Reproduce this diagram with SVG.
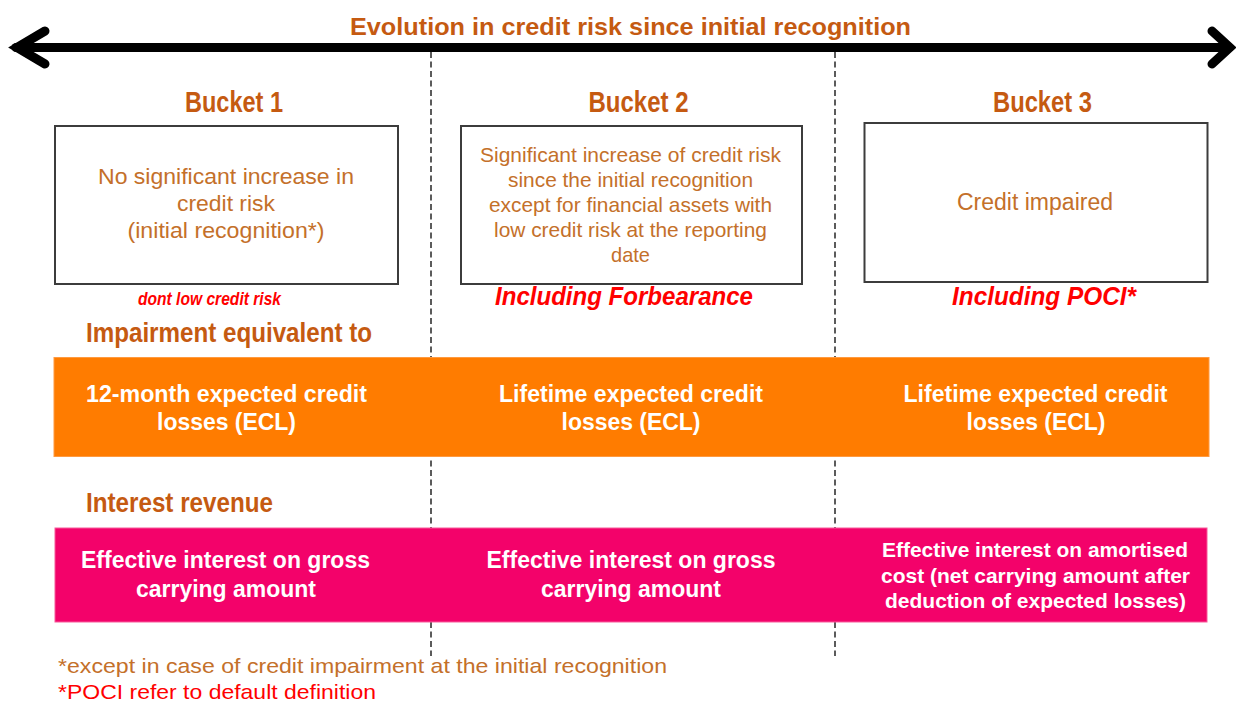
<svg xmlns="http://www.w3.org/2000/svg" width="1236" height="701" viewBox="0 0 1236 701">
<style>
text{font-family:"Liberation Sans",Arial,sans-serif;}
.hd{font-weight:bold;fill:#C55A11;}
.bt{fill:#C4702A;}
.red{fill:#FF0000;font-weight:bold;font-style:italic;}
.wb{fill:#FFFFFF;font-weight:bold;}
.box{fill:#FFFFFF;stroke:#3C3C3C;stroke-width:2;}
.dash{stroke:#333333;stroke-width:1.6;stroke-dasharray:6 3.5;fill:none;}
.arr{stroke:#000000;fill:none;stroke-linecap:round;}
</style>
<rect width="1236" height="701" fill="#FFFFFF"/>
<g id="connectors">
  <line class="dash" x1="431" y1="52" x2="431" y2="656"/>
  <line class="dash" x1="835" y1="52" x2="835" y2="656"/>
  <line class="arr" x1="16" y1="47.5" x2="1228" y2="47.5" stroke-width="9" stroke-linecap="butt"/>
  <polyline class="arr" points="45,31 17,47.5 45,64" stroke-width="9" stroke-linejoin="miter"/>
  <polyline class="arr" points="1212,31 1230,47.5 1212,64" stroke-width="9" stroke-linejoin="miter"/>
</g>
<g id="title">
  <text class="hd" x="630.5" y="35" font-size="24" text-anchor="middle" textLength="561" lengthAdjust="spacingAndGlyphs">Evolution in credit risk since initial recognition</text>
</g>
<g id="bucket1">
  <text class="hd" x="234" y="112" font-size="29" text-anchor="middle" textLength="98" lengthAdjust="spacingAndGlyphs">Bucket 1</text>
  <rect class="box" x="55" y="126" width="343" height="158"/>
  <text class="bt" x="226" y="184" font-size="22.5" text-anchor="middle" textLength="256" lengthAdjust="spacingAndGlyphs">No significant increase in</text>
  <text class="bt" x="226" y="211" font-size="22.5" text-anchor="middle" textLength="98" lengthAdjust="spacingAndGlyphs">credit risk</text>
  <text class="bt" x="226" y="238" font-size="22.5" text-anchor="middle" textLength="197" lengthAdjust="spacingAndGlyphs">(initial recognition*)</text>
  <text class="red" x="209.5" y="305" font-size="18.5" text-anchor="middle" textLength="143" lengthAdjust="spacingAndGlyphs">dont low credit risk</text>
</g>
<g id="bucket2">
  <text class="hd" x="638.5" y="112" font-size="29" text-anchor="middle" textLength="100" lengthAdjust="spacingAndGlyphs">Bucket 2</text>
  <rect class="box" x="461" y="126" width="341" height="158"/>
  <text class="bt" x="630.5" y="162" font-size="21" text-anchor="middle" textLength="301" lengthAdjust="spacingAndGlyphs">Significant increase of credit risk</text>
  <text class="bt" x="630.5" y="187" font-size="21" text-anchor="middle" textLength="245" lengthAdjust="spacingAndGlyphs">since the initial recognition</text>
  <text class="bt" x="630.5" y="212" font-size="21" text-anchor="middle" textLength="283" lengthAdjust="spacingAndGlyphs">except for financial assets with</text>
  <text class="bt" x="630.5" y="237" font-size="21" text-anchor="middle" textLength="273" lengthAdjust="spacingAndGlyphs">low credit risk at the reporting</text>
  <text class="bt" x="630.5" y="262" font-size="21" text-anchor="middle" textLength="39" lengthAdjust="spacingAndGlyphs">date</text>
  <text class="red" x="624" y="305" font-size="26" text-anchor="middle" textLength="258" lengthAdjust="spacingAndGlyphs">Including Forbearance</text>
</g>
<g id="bucket3">
  <text class="hd" x="1042.5" y="112" font-size="29" text-anchor="middle" textLength="99" lengthAdjust="spacingAndGlyphs">Bucket 3</text>
  <rect class="box" x="864.5" y="123" width="343" height="159"/>
  <text class="bt" x="1035" y="210" font-size="23" text-anchor="middle" textLength="156" lengthAdjust="spacingAndGlyphs">Credit impaired</text>
  <text class="red" x="1044" y="305" font-size="26" text-anchor="middle" textLength="184" lengthAdjust="spacingAndGlyphs">Including POCI*</text>
</g>
<g id="impairment">
  <text class="hd" x="86" y="342" font-size="28" textLength="286" lengthAdjust="spacingAndGlyphs">Impairment equivalent to</text>
  <rect x="54" y="357.5" width="1155" height="99" fill="#FF7C00" stroke="#FF9A40" stroke-width="1"/>
  <text class="wb" x="226.5" y="402" font-size="23" text-anchor="middle" textLength="281" lengthAdjust="spacingAndGlyphs">12-month expected credit</text>
  <text class="wb" x="226.5" y="430" font-size="23" text-anchor="middle" textLength="139" lengthAdjust="spacingAndGlyphs">losses (ECL)</text>
  <text class="wb" x="631" y="402" font-size="23" text-anchor="middle" textLength="264" lengthAdjust="spacingAndGlyphs">Lifetime expected credit</text>
  <text class="wb" x="631" y="430" font-size="23" text-anchor="middle" textLength="139" lengthAdjust="spacingAndGlyphs">losses (ECL)</text>
  <text class="wb" x="1035.5" y="402" font-size="23" text-anchor="middle" textLength="264" lengthAdjust="spacingAndGlyphs">Lifetime expected credit</text>
  <text class="wb" x="1036" y="430" font-size="23" text-anchor="middle" textLength="139" lengthAdjust="spacingAndGlyphs">losses (ECL)</text>
</g>
<g id="interest">
  <text class="hd" x="86" y="512" font-size="28" textLength="187" lengthAdjust="spacingAndGlyphs">Interest revenue</text>
  <rect x="55" y="528" width="1152" height="94" fill="#F3026A" stroke="#F75A9A" stroke-width="1"/>
  <text class="wb" x="225.5" y="568" font-size="23" text-anchor="middle" textLength="289" lengthAdjust="spacingAndGlyphs">Effective interest on gross</text>
  <text class="wb" x="226" y="597" font-size="23" text-anchor="middle" textLength="180" lengthAdjust="spacingAndGlyphs">carrying amount</text>
  <text class="wb" x="631" y="568" font-size="23" text-anchor="middle" textLength="289" lengthAdjust="spacingAndGlyphs">Effective interest on gross</text>
  <text class="wb" x="631" y="597" font-size="23" text-anchor="middle" textLength="180" lengthAdjust="spacingAndGlyphs">carrying amount</text>
  <text class="wb" x="1035" y="557" font-size="21" text-anchor="middle" textLength="306" lengthAdjust="spacingAndGlyphs">Effective interest on amortised</text>
  <text class="wb" x="1035.5" y="583" font-size="21" text-anchor="middle" textLength="309" lengthAdjust="spacingAndGlyphs">cost (net carrying amount after</text>
  <text class="wb" x="1035.5" y="608" font-size="21" text-anchor="middle" textLength="301" lengthAdjust="spacingAndGlyphs">deduction of expected losses)</text>
</g>
<g id="footnotes">
  <text class="bt" x="58" y="673" font-size="21" textLength="609" lengthAdjust="spacingAndGlyphs">*except in case of credit impairment at the initial recognition</text>
  <text x="58" y="699" font-size="21" fill="#FF0000" textLength="318" lengthAdjust="spacingAndGlyphs">*POCI refer to default definition</text>
</g>
</svg>
